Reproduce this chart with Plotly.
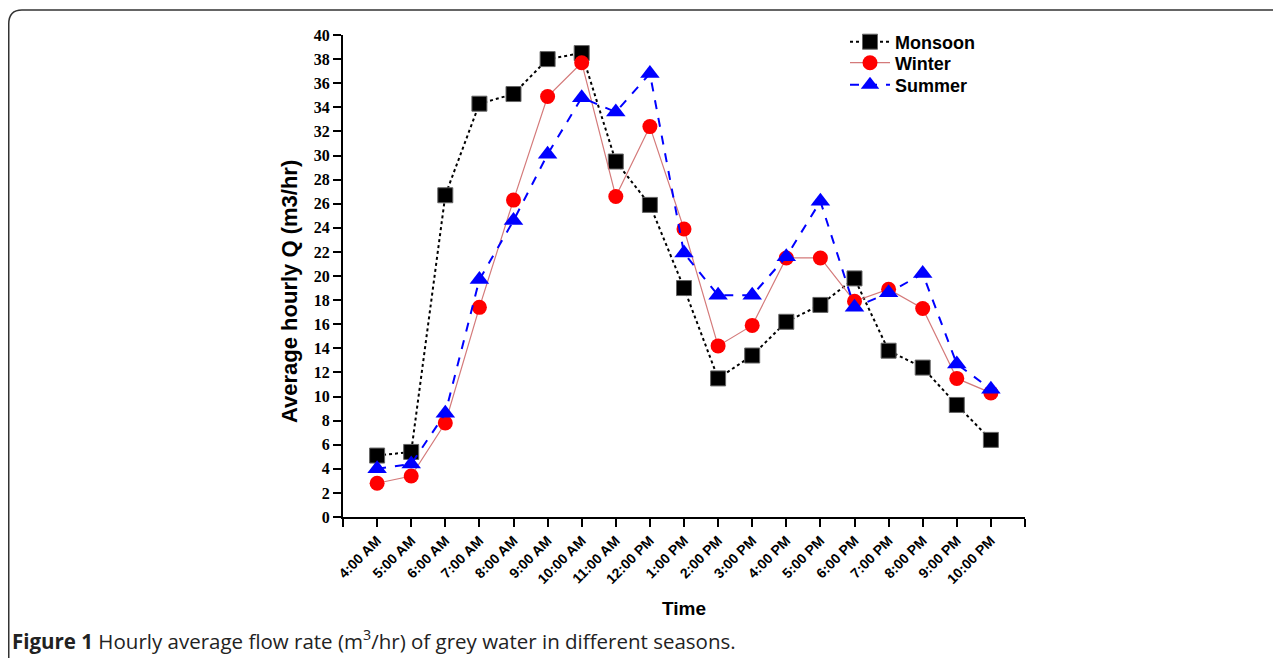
import plotly.graph_objects as go

times = ["4:00 AM", "5:00 AM", "6:00 AM", "7:00 AM", "8:00 AM", "9:00 AM", "10:00 AM",
         "11:00 AM", "12:00 PM", "1:00 PM", "2:00 PM", "3:00 PM", "4:00 PM", "5:00 PM",
         "6:00 PM", "7:00 PM", "8:00 PM", "9:00 PM", "10:00 PM"]

monsoon = [5.1, 5.4, 26.7, 34.3, 35.1, 38.0, 38.5, 29.5, 25.9, 19.0, 11.5, 13.4, 16.2,
           17.6, 19.8, 13.8, 12.4, 9.3, 6.4]
winter = [2.8, 3.4, 7.8, 17.4, 26.3, 34.9, 37.7, 26.6, 32.4, 23.9, 14.2, 15.9, 21.5,
          21.5, 17.9, 18.9, 17.3, 11.5, 10.3]
summer = [4.0, 4.4, 8.6, 19.7, 24.6, 30.1, 34.8, 33.6, 36.8, 21.9, 18.4, 18.4, 21.6,
          26.2, 17.4, 18.6, 20.2, 12.7, 10.6]

y_ticks = list(range(0, 41, 2))

xs = list(range(len(times)))

fig = go.Figure()
fig.add_trace(go.Scatter(
    x=xs, y=monsoon, name="Monsoon", mode="lines+markers", legend="legend",
    line=dict(color="black", width=2, dash="dot"),
    marker=dict(symbol="square", size=15, color="black", line=dict(color="#666", width=1))))
fig.add_trace(go.Scatter(
    x=xs, y=winter, name="Winter", mode="lines+markers", legend="legend2",
    line=dict(color="#d47a7a", width=1.2),
    marker=dict(symbol="circle", size=15, color="#ff0000")))
fig.add_trace(go.Scatter(
    x=xs, y=summer, name="Summer", mode="lines+markers", legend="legend3",
    line=dict(color="#0000ff", width=2, dash="dash"),
    marker=dict(symbol="triangle-up", size=17, color="#0000ff")))

# page body has an 8px margin: figure sits at (8, 8) in the window
OFF = 8
FW, FH = 1281 - OFF, 658 - OFF
L, T, W, H = 343 - OFF, 35 - OFF, 682, 482


def px(x):
    return (x - OFF - L) / W


def py(y):
    return (T + H - (y - OFF)) / H


border = "M {},{} L {},{} Q {},{} {},{} L {},{}".format(
    px(1300), py(10), px(22), py(10), px(8.75), py(10), px(8.75), py(24), px(8.75), py(670))

legfont = dict(family="Liberation Sans, Arial", size=18, color="black", weight="bold")


def leg(ycenter):
    return dict(x=px(845), y=py(ycenter), xanchor="left", yanchor="middle", font=legfont,
                bgcolor="rgba(0,0,0,0)", itemwidth=40, tracegroupgap=0)


fig.update_layout(
    width=FW, height=FH,
    margin=dict(l=L, r=FW - L - W, t=T, b=FH - T - H),
    paper_bgcolor="white", plot_bgcolor="white",
    showlegend=True,
    legend=leg(42), legend2=leg(63), legend3=leg(85),
    xaxis=dict(range=[-1, 19], tickmode="array", tickvals=xs,
               ticktext=times, tickangle=-45,
               ticks="outside", ticklen=8, tickwidth=2, tickcolor="black",
               minor=dict(tickmode="linear", tick0=0, dtick=1, ticks="outside",
                          ticklen=8, tickwidth=2, tickcolor="black", showgrid=False),
               showline=True, linecolor="black", linewidth=2, showgrid=False, zeroline=False,
               tickfont=dict(family="Liberation Sans, Arial", size=14, color="black", weight="bold"),
               title=dict(text="Time", standoff=16,
                          font=dict(family="Liberation Sans, Arial", size=19, color="black", weight="bold"))),
    yaxis=dict(range=[0, 40], tickmode="array", tickvals=y_ticks,
               ticks="outside", ticklen=8, tickwidth=2, tickcolor="black",
               showline=True, linecolor="black", linewidth=2, showgrid=False, zeroline=False,
               tickfont=dict(family="Liberation Serif, Times New Roman", size=16, color="black", weight="bold")),
    shapes=[dict(type="path", xref="paper", yref="paper", path=border,
                 line=dict(color="#333333", width=1.5))],
    annotations=[
        dict(xref="paper", yref="paper", x=px(289), y=py(292), xanchor="center", yanchor="middle",
             showarrow=False, textangle=-90, text="Average hourly Q (m3/hr)",
             font=dict(family="Liberation Sans, Arial", size=22, color="black", weight="bold")),
        dict(xref="paper", yref="paper", x=px(10), y=py(640), xanchor="left", yanchor="middle",
             showarrow=False,
             text="<b>Figure 1</b> Hourly average flow rate (m<sup>3</sup>/hr) of grey water in different seasons.",
             font=dict(family="Open Sans, Liberation Sans", size=20.5, color="#222"))],
)

fig.write_html("out.html")
